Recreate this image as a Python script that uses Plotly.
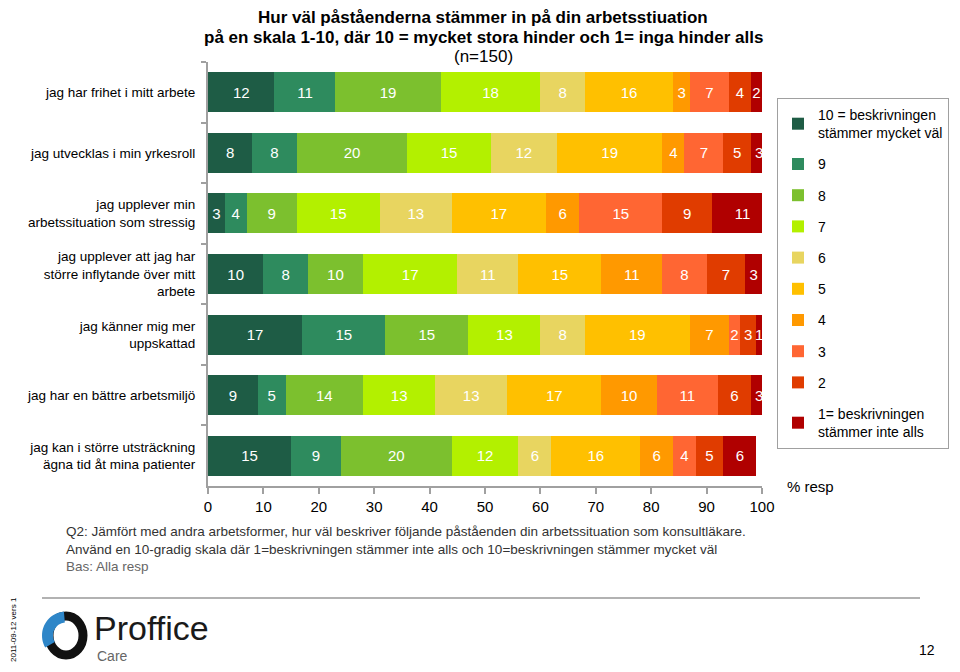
import math
import plotly.graph_objects as go

# Påståenden (uppifrån och ned)
categories = [
    "jag har frihet i mitt arbete",
    "jag utvecklas i min yrkesroll",
    "jag upplever min<br>arbetssituation som stressig",
    "jag upplever att jag har<br>större inflytande över mitt<br>arbete",
    "jag känner mig mer<br>uppskattad",
    "jag har en bättre arbetsmiljö",
    "jag kan i större utsträckning<br>ägna tid åt mina patienter",
]

# Andel svar per betyg (10 -> 1), % resp
s10 = [12, 8, 3, 10, 17, 9, 15]
s9 = [11, 8, 4, 8, 15, 5, 9]
s8 = [19, 20, 9, 10, 15, 14, 20]
s7 = [18, 15, 15, 17, 13, 13, 12]
s6 = [8, 12, 13, 11, 8, 13, 6]
s5 = [16, 19, 17, 15, 19, 17, 16]
s4 = [3, 4, 6, 11, 7, 10, 6]
s3 = [7, 7, 15, 8, 2, 11, 4]
s2 = [4, 5, 9, 7, 3, 6, 5]
s1 = [2, 3, 11, 3, 1, 3, 6]

series = [s10, s9, s8, s7, s6, s5, s4, s3, s2, s1]
names = ["10 = beskrivningen<br>stämmer mycket väl", "9", "8", "7", "6", "5", "4", "3", "2",
         "1= beskrivningen<br>stämmer inte alls"]
colors = ["#1E5C45", "#2E8B5E", "#7CC02E", "#B3F000", "#E8D560",
          "#FFC000", "#FF9900", "#FF6633", "#E03C00", "#B00000"]
x_ticks = [0, 10, 20, 30, 40, 50, 60, 70, 80, 90, 100]

FONT = "Arial, Liberation Sans, sans-serif"

# sidans marginal (body) flyttar figuren 8 px
OFF = 8
# plot area in window pixels
L, R, T, B = 208, 762, 62, 486


def px(x, y):
    return (x - L) / (R - L), (B - y) / (B - T)


fig = go.Figure()

for vals, name, col in zip(series, names, colors):
    fig.add_trace(go.Bar(
        y=categories, x=vals, orientation="h", name=name,
        marker=dict(color=col, line=dict(width=0)),
        text=[str(v) for v in vals], textposition="inside",
        insidetextanchor="middle", constraintext="none",
        textfont=dict(color="white", size=15, family=FONT),
        legendgroup=name,
    ))

ann = []


def label(text, x, y, size, color="black", anchor="left", family=FONT, **kw):
    xx, yy = px(x, y)
    ann.append(dict(x=xx, y=yy, xref="paper", yref="paper", text=text, showarrow=False,
                    xanchor=anchor, yanchor="middle", font=dict(size=size, color=color, family=family), **kw))


# titel
label("<b>Hur väl påståenderna stämmer in på din arbetsstiuation</b>", 483, 17, 17, anchor="center")
label("<b>på en skala 1-10, där 10 = mycket stora hinder och 1= inga hinder alls</b>", 483, 37, 17, anchor="center")
label("(n=150)", 483, 57, 17, anchor="center")

label("% resp", 785, 486, 15)

# fotnot
label("Q2: Jämfört med andra arbetsformer, hur väl beskriver följande påståenden din arbetssituation som konsultläkare.",
      64, 531, 13.5, "#333333")
label("Använd en 10-gradig skala där 1=beskrivningen stämmer inte alls och 10=beskrivningen stämmer mycket väl",
      64, 549, 13.5, "#333333")
label("Bas: Alla resp", 64, 566, 13.5, "#666666")

# logga / sidfot
label("Proffice", 92, 628, 34, "#1a1a1a")
label("Care", 95, 656, 14, "#666666")
label("12", 927, 650, 14, anchor="center")
label("2011-09-12 vers 1", 13, 630, 8, anchor="center", textangle=-90)

shapes = []
x0, y0 = px(42, 598)
x1, y1 = px(920, 598)
shapes.append(dict(type="line", xref="paper", yref="paper", x0=x0, y0=y0, x1=x1, y1=y1,
                   line=dict(color="#999999", width=1.5)))
cx0, cy0 = px(49, 616)
cx1, cy1 = px(83, 655)
shapes.append(dict(type="circle", xref="paper", yref="paper", x0=cx0, y0=cy0, x1=cx1, y1=cy1,
                   line=dict(color="#111111", width=9)))
# blå båge i loggan (övre vänstra delen av ringen)
ccx, ccy, r_in, r_out = 66, 635.5, 13, 24
pts = []
for a in range(95, 215, 5):
    t = math.radians(a)
    pts.append(px(ccx + r_out * math.cos(t), ccy - r_out * math.sin(t)))
for a in range(210, 90, -5):
    t = math.radians(a)
    pts.append(px(ccx + r_in * math.cos(t), ccy - r_in * math.sin(t)))
path = "M " + " L ".join(f"{a:.4f},{b:.4f}" for a, b in pts) + " Z"
shapes.append(dict(type="path", xref="paper", yref="paper", path=path,
                   fillcolor="#2E86C8", line=dict(width=0)))

lx, ly = px(777, 98)
fig.update_layout(
    width=960, height=672,
    paper_bgcolor="white", plot_bgcolor="white",
    font=dict(family=FONT, color="black"),
    barmode="stack", bargap=0.34,
    margin=dict(l=L - OFF, r=960 - (R - OFF), t=T - OFF, b=672 - (B - OFF), autoexpand=False),
    xaxis=dict(range=[0, 100], tickvals=x_ticks, showgrid=False, zeroline=False,
               showline=True, linecolor="#A0A0A0", linewidth=2,
               ticks="outside", ticklen=6, tickwidth=2, tickcolor="#A0A0A0",
               tickfont=dict(size=15, color="black")),
    yaxis=dict(autorange="reversed", showgrid=False, showline=True, linecolor="#A0A0A0", linewidth=2,
               ticks="outside", tickson="boundaries", ticklen=5, tickwidth=2, tickcolor="#A0A0A0",
               tickfont=dict(size=13.5, color="black"), ticklabelstandoff=8),
    legend=dict(x=lx, y=ly, xanchor="left", yanchor="top", traceorder="grouped",
                tracegroupgap=10, bordercolor="#A0A0A0", borderwidth=1, bgcolor="white",
                font=dict(size=14, color="black"), itemwidth=30),
    annotations=ann, shapes=shapes,
)

fig.write_html("out.html")
